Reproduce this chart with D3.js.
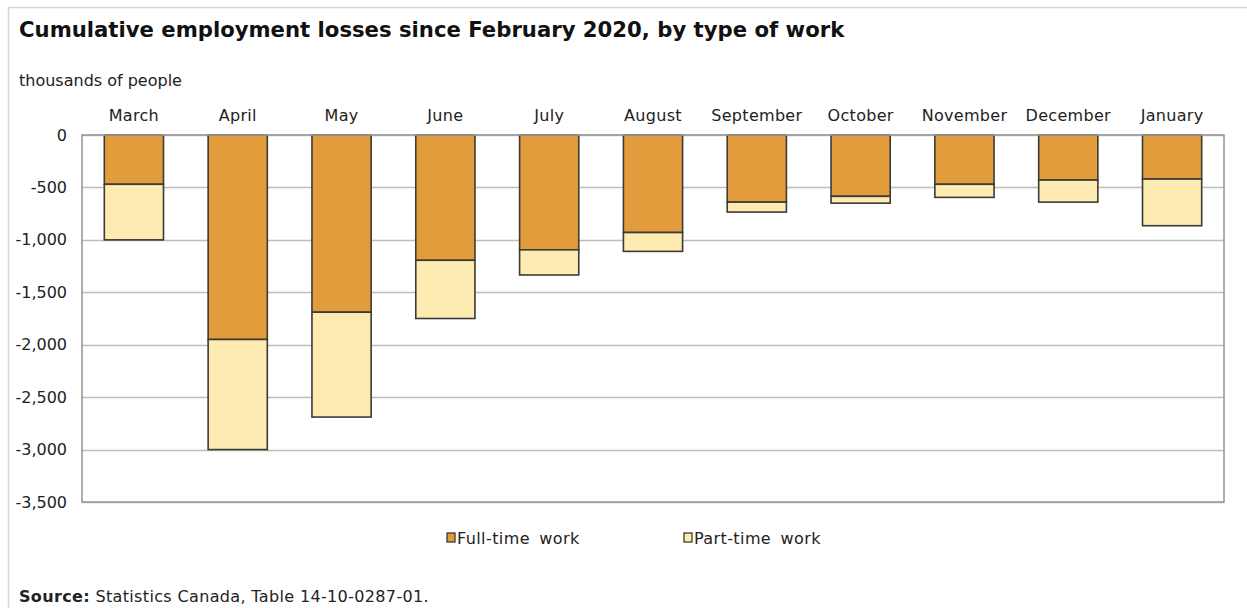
<!DOCTYPE html>
<html>
<head>
<meta charset="utf-8">
<script src="https://cdn.jsdelivr.net/npm/d3@7"></script>
<style>
  html, body { margin: 0; padding: 0; background: #fff; }
  svg { display: block; font-family: "DejaVu Sans", Verdana, sans-serif; }
</style>
</head>
<body>
<svg id="chart" width="1247" height="608"></svg>
<script>
// Months since February 2020
const months = ["March", "April", "May", "June", "July", "August",
  "September", "October", "November", "December", "January"];
// Cumulative losses, thousands of people
const fullTime = [-470, -1950, -1690, -1195, -1095, -930, -640, -585, -470, -430, -420];
const partTime = [-530, -1050, -1000, -555, -240, -180, -95, -65, -125, -210, -445];
const yTicks = [0, -500, -1000, -1500, -2000, -2500, -3000, -3500];
const seriesNames = ["Full-time work", "Part-time work"];
const seriesColors = ["#E39C3B", "#FDEBB2"];

const svg = d3.select("#chart");
const W = 1247, H = 608;
const margin = { left: 82, right: 23, top: 135, bottom: 106 };
const plotW = W - margin.left - margin.right;
const plotH = H - margin.top - margin.bottom;
const labelFont = "DejaVu Sans, Verdana, sans-serif";

// Outer frame (top and left edges)
svg.append("path")
  .attr("d", `M8.5,${H} V7.5 H${W}`)
  .attr("fill", "none").attr("stroke", "#d6d6d6").attr("stroke-width", 1.5);

svg.append("text").attr("x", 19).attr("y", 37)
  .attr("font-size", 21.2).attr("font-weight", "bold").attr("fill", "#111")
  .text("Cumulative employment losses since February 2020, by type of work");

svg.append("text").attr("x", 19).attr("y", 86)
  .attr("font-size", 16).attr("fill", "#222")
  .text("thousands of people");

const x = d3.scaleBand().domain(months).range([0, plotW]).paddingInner(0.43).paddingOuter(0.215);
const y = d3.scaleLinear().domain([-3500, 0]).range([plotH, 0]);

const g = svg.append("g").attr("transform", `translate(${margin.left},${margin.top})`);

// Gridlines
g.append("g").selectAll("line").data(yTicks).join("line")
  .attr("x1", 0).attr("x2", plotW)
  .attr("y1", d => Math.round(y(d)) + 0.5).attr("y2", d => Math.round(y(d)) + 0.5)
  .attr("stroke", "#bdbdbd").attr("stroke-width", 1.5);

// Y axis labels
const yAxis = d3.axisLeft(y).tickValues(yTicks).tickSize(0).tickPadding(15)
  .tickFormat(d => d3.format(",")(d).replace("−", "-"));
g.append("g").call(yAxis)
  .call(s => s.select(".domain").remove())
  .selectAll("text").attr("font-size", 16).attr("fill", "#222")
  .attr("font-family", labelFont);

// Month labels along the top
const xAxis = d3.axisTop(x).tickSize(0).tickPadding(14);
g.append("g").call(xAxis)
  .call(s => s.select(".domain").remove())
  .selectAll("text").attr("font-size", 16).attr("fill", "#222")
  .attr("font-family", labelFont).attr("letter-spacing", 0.3);

// Stacked bars
const rows = months.map((m, i) => ({ month: m, ft: fullTime[i], pt: partTime[i] }));
const stack = d3.stack().keys(["ft", "pt"]).offset(d3.stackOffsetDiverging);
const layers = stack(rows);
g.append("g").selectAll("g").data(layers).join("g")
  .attr("fill", (d, i) => seriesColors[i])
  .selectAll("rect").data(d => d).join("rect")
  .attr("x", d => x(d.data.month))
  .attr("width", x.bandwidth())
  .attr("y", d => y(d[1]))
  .attr("height", d => y(d[0]) - y(d[1]))
  .attr("stroke", "#3c3a36").attr("stroke-width", 1.6);

// Plot frame
g.append("rect").attr("x", 0).attr("y", 0).attr("width", plotW).attr("height", plotH)
  .attr("fill", "none").attr("stroke", "#9a9a9a").attr("stroke-width", 1.6);

// Legend
const legendX = [447, 684];
const lg = svg.append("g");
seriesNames.forEach((name, i) => {
  lg.append("rect").attr("x", legendX[i]).attr("y", 533).attr("width", 8).attr("height", 9)
    .attr("fill", seriesColors[i]).attr("stroke", "#3c3a36").attr("stroke-width", 1.3);
  lg.append("text").attr("x", legendX[i] + 10).attr("y", 544)
    .attr("font-size", 16).attr("fill", "#222")
    .attr("letter-spacing", 0.4).attr("word-spacing", 4).text(name);
});

// Source note
const src = svg.append("text").attr("x", 19).attr("y", 602).attr("font-size", 16)
  .attr("fill", "#222").attr("letter-spacing", 0.35);
src.append("tspan").attr("font-weight", "bold").text("Source:");
src.append("tspan").text(" Statistics Canada, Table 14-10-0287-01.");
</script>
</body>
</html>
